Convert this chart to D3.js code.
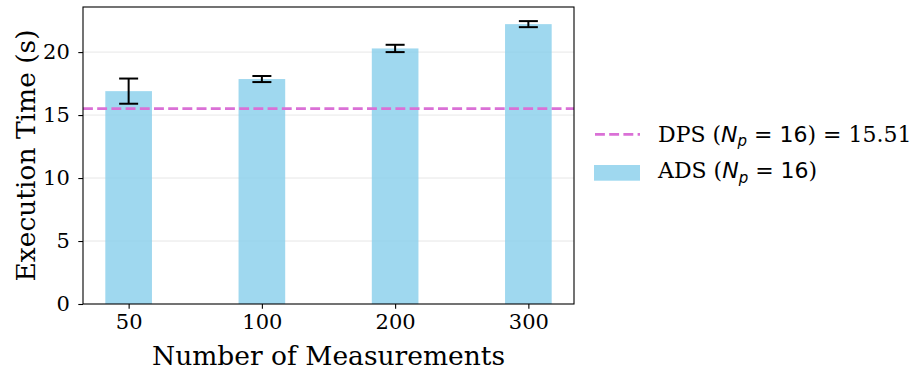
<!DOCTYPE html>
<html><head><meta charset="utf-8">
<script src="https://cdn.jsdelivr.net/npm/d3@7"></script>
<style>body{margin:0;background:#fff}svg{display:block}</style>
</head><body><svg id="c" width="914" height="373"></svg>
<script>
const categories = ["50", "100", "200", "300"];
const adsMeans = [16.9, 17.86, 20.29, 22.22];
const adsErrors = [1.0, 0.24, 0.29, 0.24];
const dpsValue = 15.51;
const yTicks = [0, 5, 10, 15, 20];

const svg = d3.select("#c");
const L = 83, R = 574, T = 7, B = 304;
const serif = "'DejaVu Serif', serif";
const sans = "'DejaVu Sans', sans-serif";

const x = d3.scaleLinear().domain([-0.3425, 3.3425]).range([L, R]);
const y = d3.scaleLinear().domain([0, 23.58]).range([B, T]);
const bw = 0.35;

// grid
svg.append("g").selectAll("line").data(yTicks.slice(1)).join("line")
  .attr("x1", L).attr("x2", R).attr("y1", d => y(d)).attr("y2", d => y(d))
  .attr("stroke", "#b0b0b0").attr("stroke-opacity", 0.3).attr("stroke-width", 1);

// bars
svg.append("g").selectAll("rect").data(adsMeans).join("rect")
  .attr("x", (d, i) => x(i - bw / 2)).attr("width", (d, i) => x(i + bw / 2) - x(i - bw / 2))
  .attr("y", d => y(d)).attr("height", d => B - y(d))
  .attr("fill", "#87CEEB").attr("fill-opacity", 0.8);

// error bars
const eg = svg.append("g").attr("stroke", "#000").attr("stroke-width", 2);
adsMeans.forEach((m, i) => {
  const e = adsErrors[i], cx = x(i);
  eg.append("line").attr("x1", cx).attr("x2", cx).attr("y1", y(m - e)).attr("y2", y(m + e));
  [m - e, m + e].forEach(v => eg.append("line").attr("x1", cx - 9.5).attr("x2", cx + 9.5).attr("y1", y(v)).attr("y2", y(v)));
});

// dps line
svg.append("line").attr("x1", L).attr("x2", R).attr("y1", y(dpsValue)).attr("y2", y(dpsValue))
  .attr("stroke", "#DA70D6").attr("stroke-opacity", 1).attr("stroke-width", 2.67).attr("stroke-dasharray", "9.9,4.3");

// axes
const xa = svg.append("g").attr("transform", `translate(0,${B})`)
  .call(d3.axisBottom(x).tickValues([0, 1, 2, 3]).tickFormat(i => categories[i]).tickSize(4.7).tickPadding(5));
const ya = svg.append("g").attr("transform", `translate(${L},0)`)
  .call(d3.axisLeft(y).tickValues(yTicks).tickSize(4.7).tickPadding(8.5));
[xa, ya].forEach(a => {
  a.select(".domain").remove();
  a.selectAll(".tick line").attr("stroke", "#000").attr("stroke-width", 1.1);
  a.selectAll("text").attr("font-family", serif).attr("font-size", 21).attr("fill", "#000");
});
xa.selectAll("text").attr("dy", "0.75em");

// frame
svg.append("rect").attr("x", L).attr("y", T).attr("width", R - L).attr("height", B - T)
  .attr("fill", "none").attr("stroke", "#000").attr("stroke-width", 1.1);

// labels
svg.append("text").attr("x", (L + R) / 2).attr("y", 365).attr("text-anchor", "middle")
  .attr("font-family", serif).attr("font-size", 26.5).text("Number of Measurements");
svg.append("text").attr("transform", `translate(35,${(T + B) / 2}) rotate(-90)`).attr("text-anchor", "middle")
  .attr("font-family", serif).attr("font-size", 26.5).text("Execution Time (s)");

// legend
const lg = svg.append("g");
lg.append("line").attr("x1", 595).attr("x2", 640).attr("y1", 134.3).attr("y2", 134.3)
  .attr("stroke", "#DA70D6").attr("stroke-opacity", 1).attr("stroke-width", 2.67).attr("stroke-dasharray", "9.9,4.3");
lg.append("rect").attr("x", 594).attr("y", 165).attr("width", 46).attr("height", 15.7)
  .attr("fill", "#87CEEB").attr("fill-opacity", 0.8);
function legText(yy, pre, post) {
  const t = lg.append("text").attr("x", 658).attr("y", yy).attr("font-family", serif).attr("font-size", 22);
  t.append("tspan").text(pre + "(");
  t.append("tspan").attr("font-family", sans).attr("font-style", "italic").text("N");
  t.append("tspan").attr("font-family", sans).attr("font-style", "italic").attr("font-size", 15).attr("dy", 4.5).text("p");
  t.append("tspan").attr("font-family", sans).attr("dy", -4.5).text(" = 16");
  t.append("tspan").text(post);
}
legText(141.7, "DPS ", ") = 15.51");
legText(178.3, "ADS ", ")");
</script></body></html>
